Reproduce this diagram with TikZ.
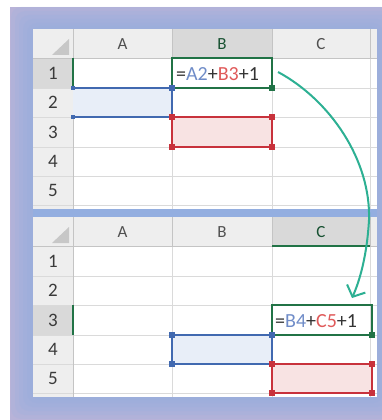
\documentclass[tikz,border=0pt]{standalone}
\usepackage{fontspec}
\setmainfont{Carlito}
\usetikzlibrary{arrows.meta}
\definecolor{bgpurple}{HTML}{B8B3D8}
\definecolor{glow}{HTML}{93AEE0}
\definecolor{hdr}{HTML}{EEEEEE}
\definecolor{hdrsel}{HTML}{D9D9D9}
\definecolor{gridc}{HTML}{DADADA}
\definecolor{hdrline}{HTML}{C4C4C4}
\definecolor{xlgreen}{HTML}{217346}
\definecolor{refblue}{HTML}{4169B0}
\definecolor{refred}{HTML}{C8323C}
\definecolor{fillblue}{HTML}{E8EEF8}
\definecolor{fillred}{HTML}{F8E3E3}
\definecolor{txtblue}{HTML}{6F8CC8}
\definecolor{txtred}{HTML}{E05A5A}
\definecolor{tealc}{HTML}{2DB093}
\definecolor{hdrtxt}{HTML}{505050}
\definecolor{rowtxt}{HTML}{3A3A3A}
\begin{document}
\begin{tikzpicture}[x=1pt,y=-1pt,
  colhead/.style={font=\fontsize{17}{17}\selectfont, text=hdrtxt, inner sep=0pt},
  rowhead/.style={font=\fontsize{19}{19}\selectfont, text=rowtxt, inner sep=0pt},
  formula/.style={font=\fontsize{20}{20}\selectfont, text=black!80, anchor=west, inner sep=0pt},
  handle/.style={rectangle, inner sep=0pt, minimum size=6pt},
  smallhandle/.style={rectangle, inner sep=0pt, minimum size=4pt},
  refbox/.style={line width=1.8pt},
  gridline/.style={draw=gridc, line width=0.8pt},
  hdrrule/.style={draw=hdrline, line width=0.9pt},
  selbar/.style={draw=xlgreen, line width=1.8pt},
  flow/.style={draw=tealc, line width=2pt, -{Straight Barb[length=9pt,width=20pt,line width=2pt]}}
]
\useasboundingbox (0,0) rectangle (382,420);
\fill[white] (0,0) rectangle (382,420);
\fill[bgpurple] (10,7) rectangle (382,420);
% glow around the sheets
\foreach \d in {22,18,14,10,6,3}
  \fill[glow, opacity=0.17, rounded corners=10pt] (33-\d,29-\d) rectangle (377+\d,397+\d);
\fill[glow] (33,205) rectangle (377,220);

% ---------- top sheet ----------
\begin{scope}[yshift=-29pt]
  \fill[white] (33,0) rectangle (377,180);
  \fill[hdr] (33,0) rectangle (377,29);
  \fill[hdr] (33,29) rectangle (73,180);
  \fill[hdrsel] (172,0) rectangle (272,29);
  \fill[hdrsel] (33,29) rectangle (73,59);
  \foreach \yy in {59,88,118,147,176} \draw[gridline] (33,\yy) -- (377,\yy);
  \foreach \xx in {172,272,370} \draw[gridline] (\xx,29) -- (\xx,180);
  \foreach \xx in {172,272,370} \draw[hdrrule] (\xx,0) -- (\xx,29);
  \draw[hdrrule] (73,0) -- (73,180);
  \draw[hdrrule] (33,29) -- (377,29);
  \fill[black!22] (52,26) -- (69,26) -- (69,10) -- cycle;
  \node[colhead] (tA) at (122.5,15) {A};
  \node[colhead, text=xlgreen!70!black] (tB) at (222,15) {B};
  \node[colhead] (tC) at (321,15) {C};
  \foreach \r/\yy in {1/44,2/73.5,3/103,4/132.5,5/161.5}
    \node[rowhead] (tr\r) at (53,\yy) {\r};
  \draw[selbar] (73,29) -- (73,59);
  % references
  \fill[fillblue] (73,59) rectangle (172,88);
  \draw[refbox, refblue] (73,59) -- (172,59) -- (172,88) -- (73,88);
  \filldraw[refbox, fill=fillred, draw=refred] (172,88) rectangle (272,118);
  \draw[refbox, xlgreen] (172,29) rectangle (272,59);
  \node[smallhandle, fill=refblue] (th1) at (73,59) {};
  \node[smallhandle, fill=refblue] (th2) at (73,88) {};
  \node[handle, fill=refblue] (th3) at (172,59) {};
  \node[handle, fill=refred] (th4) at (172,88) {};
  \node[handle, fill=refred] (th5) at (272,88) {};
  \node[handle, fill=refred] (th6) at (172,118) {};
  \node[handle, fill=refred] (th7) at (272,118) {};
  \node[handle, fill=xlgreen] (th8) at (272,59) {};
  \node[formula] (f1) at (176,45) {=\textcolor{txtblue}{A2}+\textcolor{txtred}{B3}+1};
\end{scope}

% ---------- bottom sheet ----------
\begin{scope}[yshift=-217pt]
  \fill[white] (33,0) rectangle (377,180);
  \fill[hdr] (33,0) rectangle (377,29);
  \fill[hdr] (33,29) rectangle (73,180);
  \fill[hdrsel] (272,0) rectangle (370,29);
  \fill[hdrsel] (33,88) rectangle (73,118);
  \foreach \yy in {59,88,118,147,176} \draw[gridline] (33,\yy) -- (377,\yy);
  \foreach \xx in {172,272,370} \draw[gridline] (\xx,29) -- (\xx,180);
  \foreach \xx in {172,272,370} \draw[hdrrule] (\xx,0) -- (\xx,29);
  \draw[hdrrule] (73,0) -- (73,180);
  \draw[hdrrule] (33,29) -- (377,29);
  \fill[black!22] (52,26) -- (69,26) -- (69,10) -- cycle;
  \node[colhead] (bA) at (122.5,15) {A};
  \node[colhead] (bB) at (222,15) {B};
  \node[colhead, text=xlgreen!70!black] (bC) at (321,15) {C};
  \foreach \r/\yy in {1/44,2/73.5,3/103,4/132.5,5/161.5}
    \node[rowhead] (br\r) at (53,\yy) {\r};
  \draw[selbar] (272,29) -- (370,29);
  \draw[selbar] (73,88) -- (73,118);
  % references
  \filldraw[refbox, fill=fillblue, draw=refblue] (172,118) rectangle (272,147);
  \filldraw[refbox, fill=fillred, draw=refred] (272,147) rectangle (372,176);
  \draw[refbox, xlgreen] (272,88) rectangle (372,118);
  \node[handle, fill=refblue] (bh1) at (172,118) {};
  \node[handle, fill=refblue] (bh2) at (272,118) {};
  \node[handle, fill=refblue] (bh3) at (172,147) {};
  \node[handle, fill=refred] (bh4) at (272,147) {};
  \node[handle, fill=refred] (bh5) at (372,147) {};
  \node[handle, fill=refred] (bh6) at (272,176) {};
  \node[handle, fill=refred] (bh7) at (372,176) {};
  \node[handle, fill=xlgreen] (bh8) at (372,118) {};
  \node[formula] (f2) at (275,104) {=\textcolor{txtblue}{B4}+\textcolor{txtred}{C5}+1};
\end{scope}

% ---------- arrow ----------
\coordinate (a0) at (278,72);
\coordinate (am) at (369,220);
\coordinate (a1) at (352,298);
\draw[flow] (a0) .. controls (330,100) and (371,160) .. (am)
               .. controls (367,255) and (360,280) .. (a1);
\end{tikzpicture}
\end{document}
